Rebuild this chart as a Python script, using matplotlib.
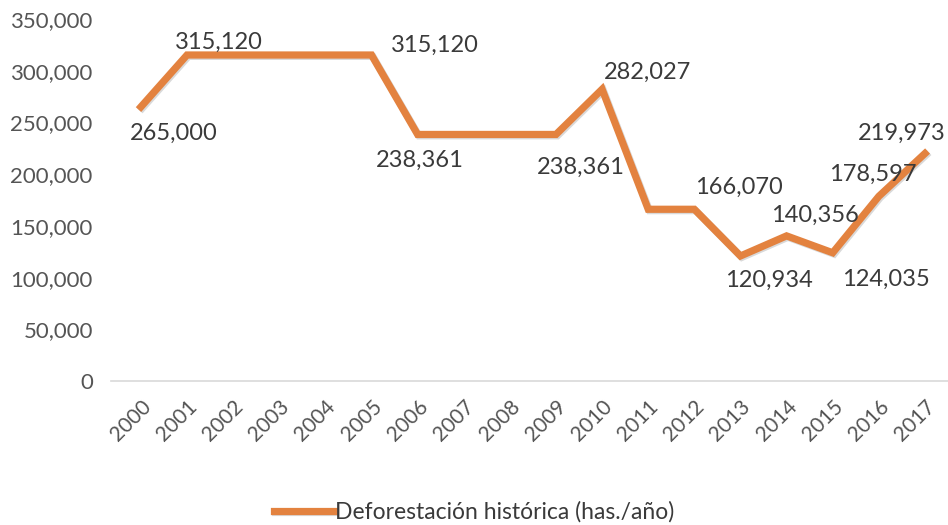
import matplotlib.pyplot as plt
import matplotlib.patheffects as pe

years = [str(y) for y in range(2000, 2018)]
deforestation = [265000, 315120, 315120, 315120, 315120, 315120,
                 238361, 238361, 238361, 238361, 282027,
                 166070, 166070, 120934, 140356, 124035, 178597, 219973]

# which points carry a label, and where the label sits (pixels from the point)
label_offsets = {0: (33, -26), 1: (32, 13), 5: (63, 10), 6: (2, -26),
                 9: (25, -33), 10: (45, 17), 12: (45, 22), 13: (28, -24),
                 14: (28, 21), 15: (53, -27), 16: (-6, 22), 17: (-23, 20)}

plt.rcParams['font.family'] = ['Lato', 'DejaVu Sans']
text_col = '#3A3A3A'
tick_col = '#555555'
orange = '#E3823F'

fig = plt.figure(figsize=(9.48, 5.25), dpi=100)
ax = fig.add_axes([0.117, 0.274, 0.883, 0.69])

x = list(range(len(years)))
ax.plot(x, deforestation, color=orange, lw=5.2, solid_joinstyle='miter',
        label='Deforestación histórica (has./año)',
        path_effects=[pe.SimpleLineShadow(offset=(1, -1), alpha=0.15), pe.Normal()])

for i, (dx, dy) in label_offsets.items():
    ax.annotate(f'{deforestation[i]:,}', (i, deforestation[i]), xytext=(dx, dy),
                textcoords='offset pixels', ha='center', va='center',
                fontsize=17, color=text_col)

ax.set_ylim(0, 350000)
ax.set_xlim(-0.65, 17.5)
ax.set_yticks(range(0, 350001, 50000))
ax.set_yticklabels([f'{v:,}' for v in range(0, 350001, 50000)])
ax.set_xticks(x)
ax.set_xticklabels(years, rotation=45, ha='right', rotation_mode='anchor')
ax.tick_params(axis='y', length=0, labelsize=16, colors=tick_col, pad=13)
ax.tick_params(axis='x', length=0, labelsize=15, colors=tick_col, pad=11)

for s in ['top', 'right', 'left']:
    ax.spines[s].set_visible(False)
ax.spines['bottom'].set_color('#D9D9D9')
ax.spines['bottom'].set_linewidth(1.2)

leg = fig.legend(loc='lower center', bbox_to_anchor=(0.5, -0.035), frameon=False,
                 fontsize=16.5, handlelength=2.6, handletextpad=0.05)
for t in leg.get_texts():
    t.set_color(text_col)

fig.savefig('out.png', dpi=100)
